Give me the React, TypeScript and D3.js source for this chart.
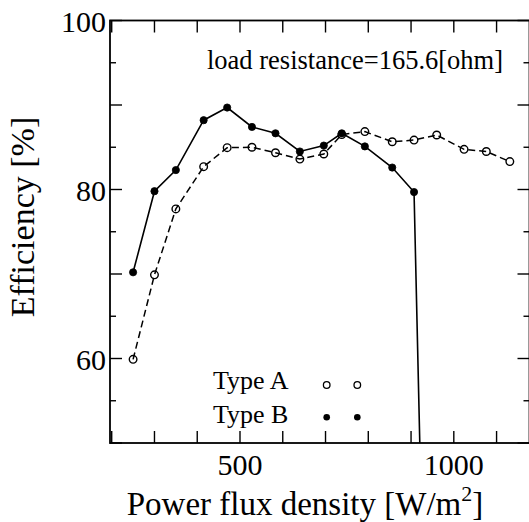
import React from "react";
import * as d3 from "d3";

// ---- data ----
const powerFlux = [250, 300, 350, 415, 470, 528, 583, 640, 696, 738, 792, 856, 907, 960, 1024, 1076, 1131];
const effTypeA = [59.9, 69.9, 77.7, 82.7, 84.95, 85.0, 84.35, 83.6, 84.2, 86.5, 86.85, 85.65, 85.85, 86.45, 84.75, 84.5, 83.3];
const effTypeB = [70.2, 79.8, 82.3, 88.2, 89.7, 87.4, 86.65, 84.5, 85.2, 86.65, 85.1, 82.6, 79.7];
// last Type B measurement falls below the axis (off-scale)
const typeBDropX = [925];
const typeBDropY = [40];

const xTicks = [200, 300, 400, 500, 600, 700, 800, 900, 1000, 1100];
const xTickLabels = [500, 1000];
const yTicks = [50, 55, 60, 65, 70, 75, 80, 85, 90, 95, 100];
const yTickLabels = [60, 80, 100];

const W = 529;
const H = 522;
const L = 110;
const R = 529.5;
const T = 20.5;
const B = 443;

const FONT = "'Liberation Serif', 'Times New Roman', serif";

export default function App() {
  const x = d3.scaleLinear().domain([196, 1177]).range([L, R]);
  const y = d3.scaleLinear().domain([50, 100]).range([B, T]);

  const ptsA = powerFlux.map((p, i) => [p, effTypeA[i]] as [number, number]);
  const ptsB = effTypeB.map((e, i) => [powerFlux[i], e] as [number, number]);
  const lineB = [...ptsB, ...typeBDropX.map((p, i) => [p, typeBDropY[i]] as [number, number])];

  const line = d3
    .line<[number, number]>()
    .x((d) => x(d[0]))
    .y((d) => y(d[1]));

  return (
    <svg
      width={W}
      height={H}
      style={{ position: "absolute", left: 0, top: 0, background: "#fff" }}
      fontFamily={FONT}
    >
      <defs>
        <clipPath id="plotClip">
          <rect x={L} y={T} width={R - L} height={B - T} />
        </clipPath>
      </defs>
      <rect x={0} y={0} width={W} height={H} fill="#fff" />

      {/* ticks */}
      {xTicks.map((t) => (
        <g key={"xt" + t} stroke="#000" strokeWidth={1.4}>
          <line x1={x(t)} x2={x(t)} y1={B} y2={B - 12} />
          <line x1={x(t)} x2={x(t)} y1={T} y2={T + 12} />
        </g>
      ))}
      {yTicks.map((t) => {
        const len = t % 10 === 0 ? 12 : 6;
        return (
          <g key={"yt" + t} stroke="#000" strokeWidth={1.4}>
            <line x1={L} x2={L + len} y1={y(t)} y2={y(t)} />
            <line x1={R} x2={R - len} y1={y(t)} y2={y(t)} />
          </g>
        );
      })}

      {/* frame */}
      <rect x={L} y={T} width={R - L} height={B - T} fill="none" stroke="#000" strokeWidth={1.8} />

      {/* tick labels */}
      {xTickLabels.map((t) => (
        <text key={"xl" + t} x={x(t)} y={475} fontSize={30} textAnchor="middle" fill="#000">
          {t}
        </text>
      ))}
      {yTickLabels.map((t) => (
        <text key={"yl" + t} x={106} y={y(t) + 11} fontSize={30} textAnchor="end" fill="#000">
          {t}
        </text>
      ))}

      {/* axis titles */}
      <text x={305} y={515} fontSize={33} textAnchor="middle" fill="#000">
        Power flux density [W/m
        <tspan fontSize={22} dy={-14}>2</tspan>
        <tspan dy={14}>]</tspan>
      </text>
      <text
        transform="translate(34,217) rotate(-90)"
        fontSize={34}
        textAnchor="middle"
        fill="#000"
      >
        Efficiency [%]
      </text>

      {/* annotation */}
      <text x={207} y={69} fontSize={26.5} fill="#000">
        load resistance=165.6[ohm]
      </text>

      {/* series */}
      <g clipPath="url(#plotClip)">
        <path d={line(ptsA) || ""} fill="none" stroke="#000" strokeWidth={1.5} strokeDasharray="7,4" />
        <path d={line(lineB) || ""} fill="none" stroke="#000" strokeWidth={1.6} />
        {ptsA.map((d, i) => (
          <circle key={"a" + i} cx={x(d[0])} cy={y(d[1])} r={3.8} fill="none" stroke="#000" strokeWidth={1.4} />
        ))}
        {ptsB.map((d, i) => (
          <circle key={"b" + i} cx={x(d[0])} cy={y(d[1])} r={3.6} fill="#000" stroke="#000" strokeWidth={0.8} />
        ))}
      </g>

      {/* legend */}
      <text x={213} y={389} fontSize={26} fill="#000">
        Type A
      </text>
      <text x={213} y={423} fontSize={26} fill="#000">
        Type B
      </text>
      {[326.7, 357.3].map((cx, i) => (
        <circle key={"la" + i} cx={cx} cy={385} r={3.3} fill="none" stroke="#000" strokeWidth={1.3} />
      ))}
      {[326.7, 357.3].map((cx, i) => (
        <circle key={"lb" + i} cx={cx} cy={417.3} r={3.3} fill="#000" />
      ))}
    </svg>
  );
}
